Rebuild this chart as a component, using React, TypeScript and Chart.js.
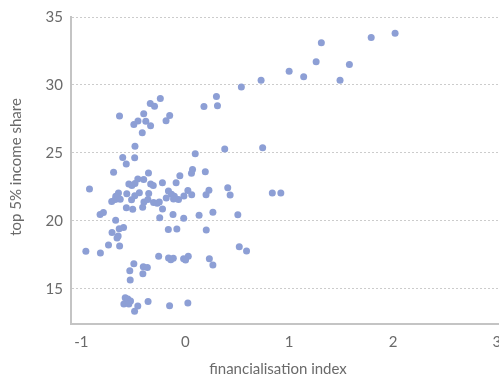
import React, { useEffect, useRef } from "react";
import { Chart, registerables } from "chart.js";

Chart.register(...registerables);

const financialisation = [
  2.02, 1.79, 1.31, 1.26, 1.58, 1.0, 1.14, 1.49, 0.73, 0.54,
  0.745, 0.3, 0.31, 0.18, -0.24, -0.337, -0.296, -0.4, -0.633, -0.15,
  -0.185, -0.455, -0.38, -0.495, -0.334, -0.414, -0.484, -0.602, -0.487, -0.568,
  0.38, 0.096, -0.69, -0.354, -0.457, -0.4, -0.543, -0.514, -0.484, -0.333,
  -0.308, -0.22, -0.088, -0.052, 0.07, 0.06, 0.193, 0.409, 0.432, 0.228,
  0.2, 0.025, 0.062, -0.013, -0.162, -0.133, -0.183, -0.105, -0.113, -0.065,
  0.838, 0.92, -0.922, -0.563, -0.643, -0.669, -0.708, -0.674, -0.626, -0.442,
  -0.486, -0.517, -0.352, -0.398, -0.36, -0.305, -0.27, -0.25, -0.41, -0.567,
  -0.506, -0.219, -0.82, -0.788, -0.118, -0.246, -0.015, 0.133, 0.266, 0.506,
  -0.67, -0.594, -0.636, -0.705, -0.646, -0.657, -0.739, -0.817, -0.957, -0.632,
  -0.163, -0.081, 0.202, 0.52, 0.59, -0.256, -0.161, -0.139, -0.115, -0.016,
  0.029, 0.003, 0.232, 0.266, -0.495, -0.534, -0.404, -0.365, -0.408, -0.53,
  -0.578, -0.553, -0.527, -0.591, -0.543, -0.457, -0.488, -0.358, -0.151, 0.025,
];

const topShare = [
  33.8, 33.5, 33.1, 31.7, 31.5, 31.0, 30.6, 30.35, 30.35, 29.85,
  25.37, 29.15, 28.46, 28.41, 29.0, 28.63, 28.43, 27.87, 27.72, 27.74,
  27.37, 27.35, 27.33, 27.09, 26.99, 26.47, 25.49, 24.65, 24.63, 24.18,
  25.28, 24.93, 23.58, 23.52, 23.08, 23.04, 22.7, 22.6, 22.74, 22.71,
  22.6, 22.8, 22.8, 23.31, 23.77, 23.49, 23.6, 22.43, 21.89, 22.25,
  21.91, 22.22, 21.91, 21.83, 22.19, 21.95, 21.68, 21.8, 21.6, 21.56,
  22.04, 22.04, 22.34, 21.99, 22.04, 21.8, 21.42, 21.57, 21.58, 22.07,
  21.84, 21.54, 22.0, 21.38, 21.56, 21.35, 21.28, 21.38, 21.0, 20.96,
  20.84, 20.86, 20.46, 20.61, 20.47, 20.23, 20.18, 20.4, 20.62, 20.44,
  20.04, 19.5, 19.42, 19.13, 18.87, 18.73, 18.22, 17.63, 17.76, 18.14,
  19.36, 19.4, 19.32, 18.09, 17.77, 17.39, 17.25, 17.13, 17.24, 17.2,
  17.39, 17.12, 17.2, 16.74, 16.83, 16.32, 16.61, 16.56, 16.1, 15.63,
  14.33, 14.24, 14.1, 13.88, 13.88, 13.73, 13.33, 14.05, 13.74, 13.95,
];

const xTicks = [-1, 0, 1, 2, 3];
const yTicks = [15, 20, 25, 30, 35];
const xTitle = "financialisation index";
const yTitle = "top 5% income share";

const FONT = "Lato, 'Open Sans', sans-serif";
const TEXT_COLOR = "#6a6a6a";
const POINT_COLOR = "#8d9fd5";
const AXIS_COLOR = "#c4c4c4";

export default function App() {
  const canvasRef = useRef<HTMLCanvasElement | null>(null);

  useEffect(() => {
    const canvas = canvasRef.current;
    if (!canvas) return;

    const points = financialisation.map((x, i) => ({ x, y: topShare[i] }));

    const titlePlugin = {
      id: "axisTitles",
      afterDraw(chart: any) {
        const ctx = chart.ctx as CanvasRenderingContext2D;
        ctx.save();
        ctx.font = `400 15px ${FONT}`;
        ctx.fillStyle = TEXT_COLOR;
        ctx.textAlign = "center";
        ctx.textBaseline = "alphabetic";
        ctx.fillText(xTitle, 278, 374);
        ctx.translate(21, 167);
        ctx.rotate(-Math.PI / 2);
        ctx.fillText(yTitle, 0, 0);
        ctx.restore();
      },
    };

    const chart = new Chart(canvas, {
      type: "scatter",
      data: {
        datasets: [
          {
            data: points,
            backgroundColor: POINT_COLOR,
            borderWidth: 0,
            pointRadius: 3.5,
            pointHoverRadius: 3.5,
          },
        ],
      },
      options: {
        animation: false,
        responsive: true,
        maintainAspectRatio: false,
        layout: { padding: { left: 0, right: 30, top: 17, bottom: 0 } },
        plugins: {
          legend: { display: false },
          tooltip: { enabled: false },
        },
        scales: {
          x: {
            type: "linear",
            min: -1.1,
            max: 3.03,
            afterBuildTicks: (s: any) => {
              s.ticks = xTicks.map((v) => ({ value: v }));
            },
            afterFit: (s: any) => {
              s.height = 52;
            },
            grid: { display: false, drawTicks: false },
            border: { display: true, color: AXIS_COLOR, width: 2 },
            ticks: {
              padding: 9,
              color: TEXT_COLOR,
              font: { family: FONT, size: 15, weight: "400" as any },
              maxRotation: 0,
              callback: (v: any) => `${v}`,
            },
          },
          y: {
            type: "linear",
            min: 12.4,
            max: 35,
            afterBuildTicks: (s: any) => {
              s.ticks = yTicks.map((v) => ({ value: v }));
            },
            afterFit: (s: any) => {
              s.width = 71;
            },
            grid: { display: true, drawTicks: false, color: "#cccccc", lineWidth: 1 },
            border: { display: true, color: AXIS_COLOR, width: 2, dash: [2, 2] },
            ticks: {
              padding: 8,
              color: TEXT_COLOR,
              font: { family: FONT, size: 15, weight: "400" as any },
              callback: (v: any) => `${v}`,
            },
          },
        },
      },
      plugins: [titlePlugin],
    });

    return () => chart.destroy();
  }, []);

  return (
    <div
      style={{
        position: "absolute",
        left: 0,
        top: 0,
        width: 499,
        height: 376,
        overflow: "hidden",
        background: "#ffffff",
      }}
    >
      <div style={{ position: "relative", width: 530, height: 376 }}>
        <canvas ref={canvasRef} style={{ display: "block" }} />
      </div>
    </div>
  );
}
